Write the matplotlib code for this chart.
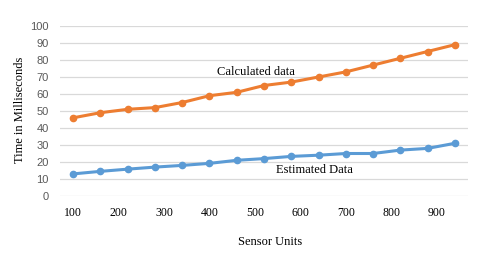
import numpy as np
import matplotlib.pyplot as plt

# sensor units on x axis, times in ms
units = [100, 160, 220, 280, 340, 400, 460, 520, 580, 640, 700, 760, 820, 880, 940]
calculated = [46, 49, 51, 52, 55, 59, 61, 65, 67, 70, 73, 77, 81, 85, 89]
estimated = [13, 14.5, 15.8, 17, 18, 19.2, 21, 22, 23.3, 24, 25, 25, 27, 28, 31]
xticks = [100, 200, 300, 400, 500, 600, 700, 800, 900]
yticks = [0, 10, 20, 30, 40, 50, 60, 70, 80, 90, 100]

fig = plt.figure(figsize=(4.8, 2.59), dpi=100)
ax = fig.add_axes([60/480, 1-196/259, 408/480, 170/259])

ax.plot(units, calculated, color='#ED7D31', lw=2.2, marker='o', ms=4.5)
ax.plot(units, estimated, color='#5B9BD5', lw=2.2, marker='o', ms=4.5)

ax.set_xlim(71, 969)
ax.set_ylim(0, 100)
ax.set_xticks(xticks)
ax.set_yticks(yticks)
ax.grid(axis='y', color='#d9d9d9', lw=0.9)
ax.set_axisbelow(True)
for s in ax.spines.values():
    s.set_visible(False)
ax.tick_params(length=0)
ax.tick_params(axis='y', labelsize=8, labelcolor='#595959', pad=8)
ax.tick_params(axis='x', labelsize=8.5, pad=8)
for lb in ax.get_xticklabels():
    lb.set_family('Liberation Serif')
for lb in ax.get_yticklabels():
    lb.set_family('Liberation Sans')

fig.text(256/480, 1-72/259, 'Calculated data', ha='center', va='center', fontsize=9, family='Liberation Serif')
fig.text(314/480, 1-170/259, 'Estimated Data', ha='center', va='center', fontsize=9, family='Liberation Serif')
fig.text(270/480, 1-242/259, 'Sensor Units', ha='center', va='center', fontsize=9, family='Liberation Serif')
fig.text(20/480, 1-110/259, 'Time in Milliseconds', ha='center', va='center', rotation=90, fontsize=9, family='Liberation Serif')

fig.savefig('out.png', dpi=100)
